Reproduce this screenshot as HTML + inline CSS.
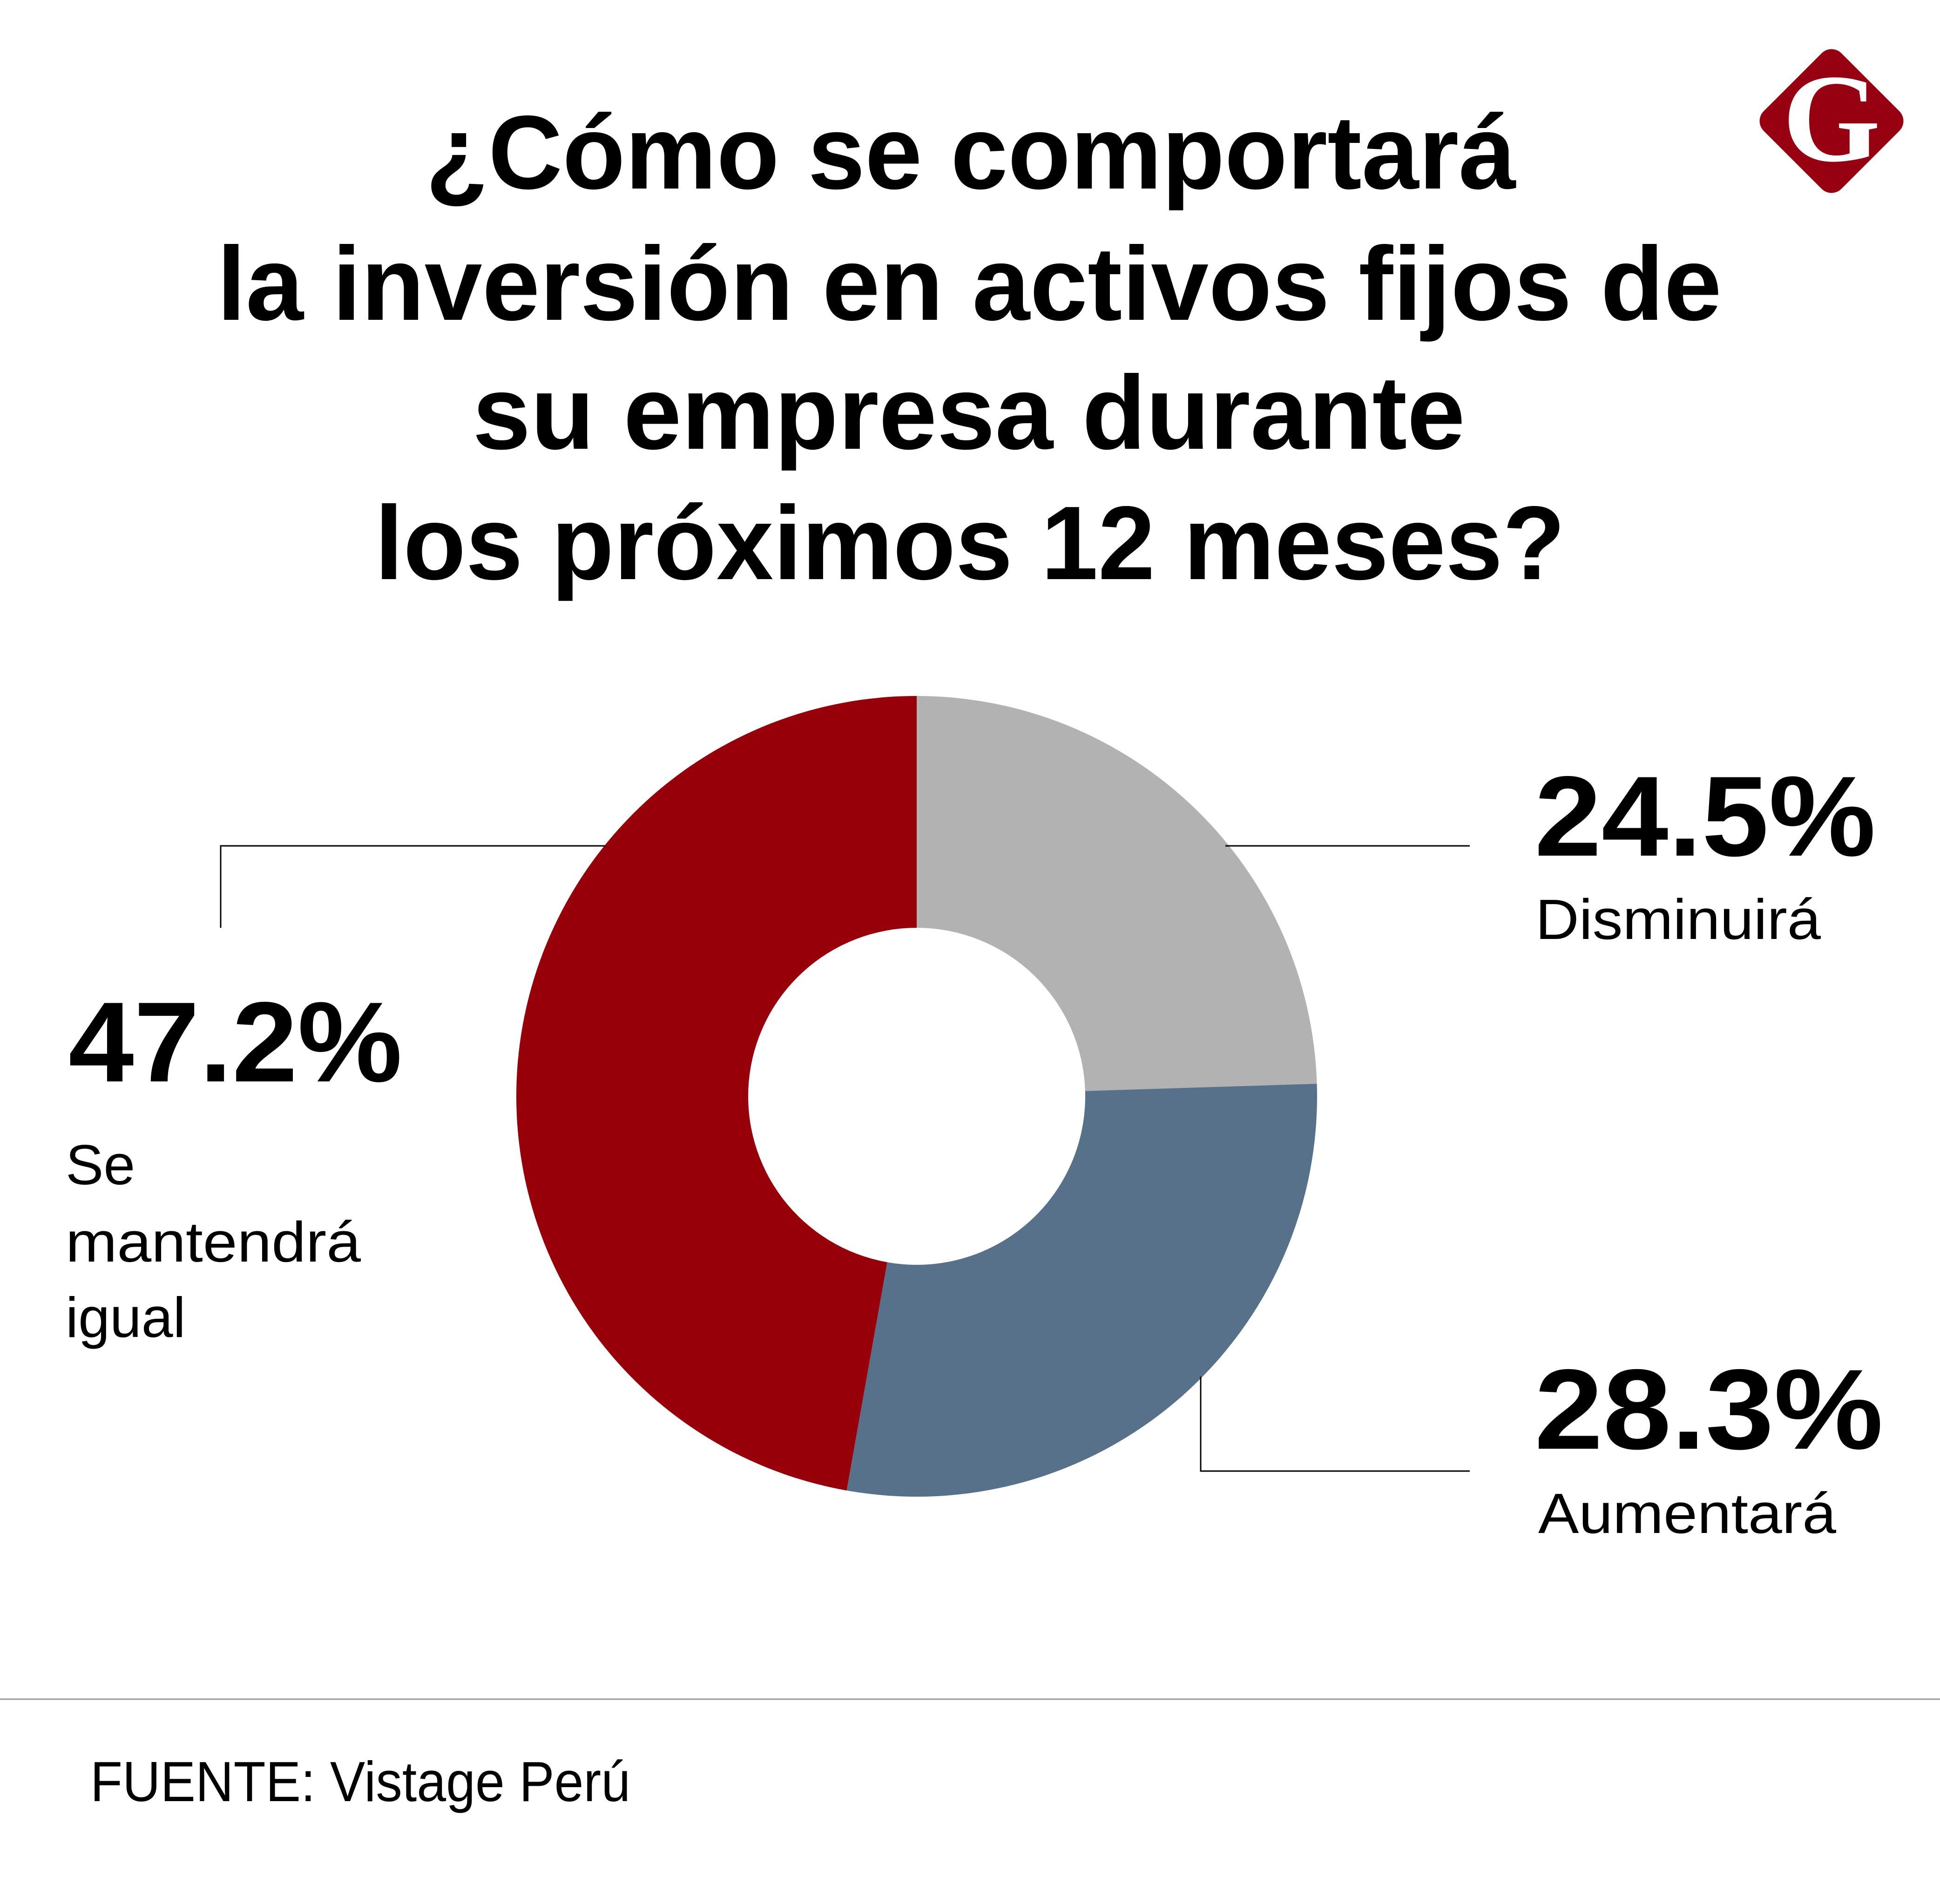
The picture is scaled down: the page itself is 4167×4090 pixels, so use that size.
<!DOCTYPE html>
<html><head><meta charset="utf-8"><style>
html,body{margin:0;padding:0;background:#fff}
svg{display:block}
</style></head><body>
<svg id="chart" width="4167" height="4090" viewBox="0 0 4167 4090" xmlns="http://www.w3.org/2000/svg">
<g font-family="Liberation Sans, sans-serif" font-weight="bold" font-size="225" fill="#000" text-anchor="start">
<text x="914" y="405" textLength="2342" lengthAdjust="spacingAndGlyphs">¿Cómo se comportará</text>
<text x="466" y="687" textLength="3232" lengthAdjust="spacingAndGlyphs">la inversión en activos fijos de</text>
<text x="1015" y="964" textLength="2132" lengthAdjust="spacingAndGlyphs">su empresa durante</text>
<text x="805" y="1244" textLength="2557" lengthAdjust="spacingAndGlyphs">los próximos 12 meses?</text>
</g>
<g>
<rect x="3816" y="142" width="236" height="236" rx="30" transform="rotate(45 3934 260)" fill="#970010"/>
<text x="3934" y="345" text-anchor="middle" font-family="Liberation Serif, serif" font-weight="bold" font-size="270" fill="#fff">G</text>
</g>
<g id="slices"></g>
<g stroke="#000" stroke-width="3" fill="none">
<polyline points="474,1993 474,1817 1300,1817"/>
<polyline points="2632,1817 3157,1817"/>
<polyline points="2579,2957 2579,3160 3157,3160"/>
</g>
<g font-family="Liberation Sans, sans-serif" fill="#000">
<text x="3296" y="1838" font-size="245" font-weight="bold" textLength="733" lengthAdjust="spacingAndGlyphs">24.5%</text>
<text x="3298" y="2017" font-size="122" textLength="613" lengthAdjust="spacingAndGlyphs">Disminuirá</text>
<text x="147" y="2323" font-size="245" font-weight="bold" textLength="717" lengthAdjust="spacingAndGlyphs">47.2%</text>
<text x="141" y="2544" font-size="122">Se</text>
<text x="141" y="2710" font-size="122" textLength="634" lengthAdjust="spacingAndGlyphs">mantendrá</text>
<text x="141" y="2872" font-size="122">igual</text>
<text x="3296" y="3112" font-size="245" font-weight="bold" textLength="749" lengthAdjust="spacingAndGlyphs">28.3%</text>
<text x="3304" y="3293" font-size="122" textLength="640" lengthAdjust="spacingAndGlyphs">Aumentará</text>
</g>
<line x1="0" y1="3650" x2="4167" y2="3650" stroke="#999" stroke-width="3"/>
<text x="194" y="3869" font-family="Liberation Sans, sans-serif" font-size="122" fill="#000" textLength="1160" lengthAdjust="spacingAndGlyphs">FUENTE: Vistage Perú</text>
</svg>
<script>
const categories = ["Disminuirá", "Aumentará", "Se mantendrá igual"];
const values = [24.5, 28.3, 47.2];
const colors = ["#b2b2b2", "#567189", "#970008"];
const cx = 1969, cy = 2355, rOuter = 860, rInner = 362;
const total = values.reduce((a, b) => a + b, 0);
function angleOf(v) { return v / total * Math.PI * 2; }
function pt(r, a) { return [cx + r * Math.sin(a), cy - r * Math.cos(a)]; }
const g = document.getElementById('slices');
let acc = 0;
values.forEach((v, i) => {
  const a0 = angleOf(acc), a1 = angleOf(acc + v);
  acc += v;
  const large = (a1 - a0) > Math.PI ? 1 : 0;
  const p0 = pt(rOuter, a0), p1 = pt(rOuter, a1), q1 = pt(rInner, a1), q0 = pt(rInner, a0);
  const d = `M${p0[0]},${p0[1]} A${rOuter},${rOuter} 0 ${large} 1 ${p1[0]},${p1[1]} L${q1[0]},${q1[1]} A${rInner},${rInner} 0 ${large} 0 ${q0[0]},${q0[1]} Z`;
  const path = document.createElementNS('http://www.w3.org/2000/svg', 'path');
  path.setAttribute('d', d);
  path.setAttribute('fill', colors[i]);
  
  
  g.appendChild(path);
});
</script>
</body></html>
